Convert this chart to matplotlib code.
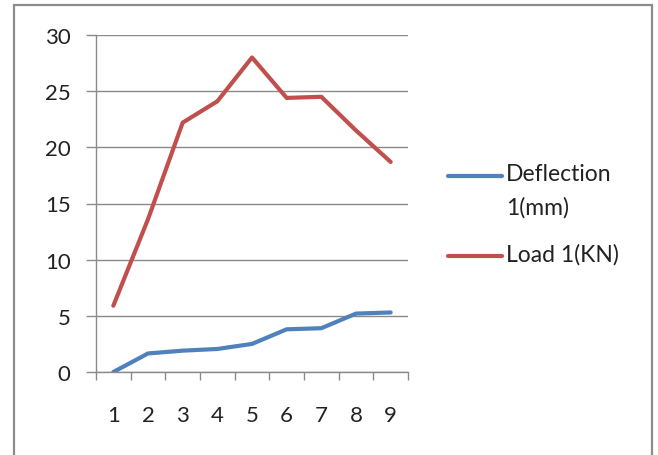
import matplotlib
matplotlib.use("Agg")
import matplotlib.pyplot as plt
from matplotlib.patches import Rectangle
from matplotlib.lines import Line2D

categories = [1, 2, 3, 4, 5, 6, 7, 8, 9]
deflection = [0.0, 1.65, 1.9, 2.05, 2.5, 3.8, 3.9, 5.2, 5.3]
load = [5.9, 13.6, 22.2, 24.1, 28.0, 24.4, 24.5, 21.5, 18.7]
y_ticks = [0, 5, 10, 15, 20, 25, 30]
series_labels = ['Deflection\n1(mm)', 'Load 1(KN)']
series_colors = ['#4F81BD', '#C0504D']

plt.rcParams['font.family'] = ['Lato', 'DejaVu Sans']
FS = 16
FS_LEG = 16.5
TXT = '#222222'
GRID = '#8a8a8a'

W, H = 658, 456
fig = plt.figure(figsize=(W / 100, H / 100), dpi=100)

# outer chart frame
fig.patches.append(Rectangle((14 / W, -0.05), (652 - 14) / W, (450 + 0.05 * H) / H,
                             transform=fig.transFigure, fill=False,
                             edgecolor='#8c8c8c', linewidth=1.6))

ax = fig.add_axes([96 / W, 1 - 373 / H, (408 - 96) / W, (373 - 36) / H])

x = list(range(len(categories)))
for values, color in zip([deflection, load], series_colors):
    ax.plot(x, values, color=color, linewidth=3.0, solid_capstyle='round')

ax.set_xlim(-0.5, len(categories) - 0.5)
ax.set_ylim(0, 30)
ax.set_yticks(y_ticks)
ax.set_yticklabels([str(v) for v in y_ticks], fontsize=FS, color=TXT)
ax.yaxis.grid(True, color=GRID, linewidth=1.0)
ax.set_axisbelow(True)

ax.set_xticks(x)
ax.set_xticklabels([str(c) for c in categories], fontsize=FS, color=TXT)
ax.set_xticks([i - 0.5 for i in range(len(categories) + 1)], minor=True)
ax.tick_params(axis='x', which='major', length=0, pad=24)
ax.tick_params(axis='x', which='minor', length=5.8, color=GRID, width=1.0)
ax.tick_params(axis='y', length=7.2, color=GRID, width=1.0, pad=11)

for side in ('top', 'right'):
    ax.spines[side].set_visible(False)
for side in ('left', 'bottom'):
    ax.spines[side].set_color(GRID)
    ax.spines[side].set_linewidth(1.0)

# legend: line sample aligned with the first text line of each entry
legend_rows = [177, 257]
for label, color, ypix in zip(series_labels, series_colors, legend_rows):
    yf = 1 - ypix / H
    fig.add_artist(Line2D([448 / W, 502 / W], [yf, yf], transform=fig.transFigure,
                          color=color, linewidth=3.0, solid_capstyle='round'))
    fig.text(506 / W, 1 - (ypix - 13) / H, label, fontsize=FS_LEG, color=TXT,
             ha='left', va='top', linespacing=1.7)

fig.savefig('out.png', dpi=100)
